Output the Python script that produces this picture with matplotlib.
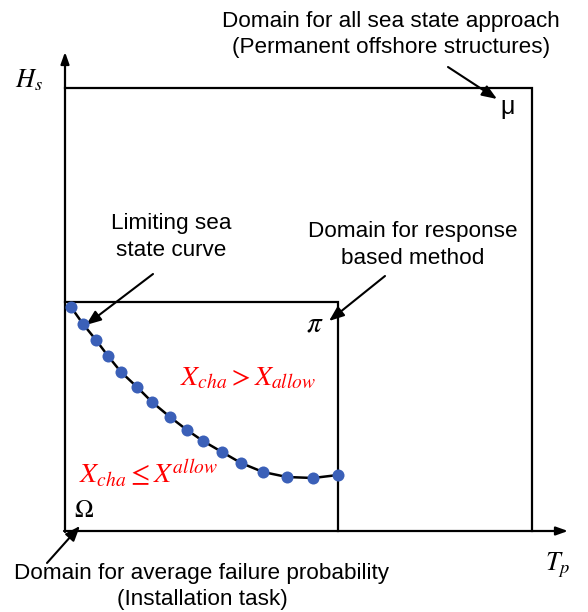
import numpy as np
from matplotlib import pyplot as plt

plt.rcParams['font.family'] = ['Liberation Sans', 'DejaVu Sans']
plt.rcParams['mathtext.fontset'] = 'stix'

# limiting sea state curve (Tp, Hs) in picture units
curve_tp = [71, 83, 96, 108, 121, 137, 152, 170, 187, 203, 222, 241, 263, 287, 313, 338]
curve_hs = [307, 324, 340, 356, 372, 387, 402, 417, 430, 441, 452, 463, 472, 477, 478, 475]

origin = (65, 531)
big_box = (532, 88)     # right, top
small_box = (338, 302)  # right, top

fig = plt.figure(figsize=(5.88, 6.12), dpi=100)
ax = fig.add_axes([0, 0, 1, 1])
ax.set_xlim(0, 588)
ax.set_ylim(612, 0)
ax.axis("off")

lw = 1.6
x0, y0 = origin
# axes with arrows
ax.annotate("", xy=(x0, 52), xytext=(x0, y0 + 1),
            arrowprops=dict(arrowstyle="-|>,head_length=0.7,head_width=0.25", lw=lw, color="black", shrinkA=0, shrinkB=0))
ax.annotate("", xy=(568, y0), xytext=(x0 - 1, y0),
            arrowprops=dict(arrowstyle="-|>,head_length=0.7,head_width=0.25", lw=lw, color="black", shrinkA=0, shrinkB=0))

# boxes
for r, t in [big_box, small_box]:
    ax.plot([x0, r, r], [t, t, y0], color="black", lw=lw, solid_joinstyle="miter")

# curve + points
ax.plot(curve_tp, curve_hs, color="black", lw=1.8, zorder=3)
ax.scatter(curve_tp, curve_hs, s=75, color="#3b60b8", zorder=4, linewidths=0)

# axis labels & symbols
ax.text(29, 80, r"$H_s$", fontsize=19, ha="center", va="center")
ax.text(558, 565, r"$T_p$", fontsize=19, ha="center", va="center")
ax.text(508, 107, "μ", fontsize=18, ha="center", va="center")
ax.text(315, 324, r"$\pi$", fontsize=21, ha="center", va="center")
ax.text(84, 510, r"$\Omega$", fontsize=18, ha="center", va="center")

# red annotations
ax.text(248, 378, r"$X_{cha} > X_{allow}$", fontsize=20, color="red", ha="center", va="center")
ax.text(148, 474, r"$X_{cha} \leq X^{allow}$", fontsize=20, color="red", ha="center", va="center")

fs = 16.2
ax.text(391, 21, "Domain for all sea state approach", fontsize=fs, ha="center", va="center")
ax.text(391, 48, "(Permanent offshore structures)", fontsize=fs, ha="center", va="center")
ax.text(171, 224, "Limiting sea", fontsize=fs, ha="center", va="center")
ax.text(171, 251, "state curve", fontsize=fs, ha="center", va="center")
ax.text(413, 232, "Domain for response", fontsize=fs, ha="center", va="center")
ax.text(413, 259, "based method", fontsize=fs, ha="center", va="center")
ax.text(202, 573, "Domain for average failure probability", fontsize=fs, ha="center", va="center")
ax.text(202, 599, "(Installation task)", fontsize=fs, ha="center", va="center")

arrow = dict(arrowstyle="-|>,head_length=0.9,head_width=0.35", lw=1.5, color="black", shrinkA=0, shrinkB=0)
ax.annotate("", xy=(497, 99), xytext=(448, 67), arrowprops=arrow)
ax.annotate("", xy=(86, 325), xytext=(153, 274), arrowprops=arrow)
ax.annotate("", xy=(329, 321), xytext=(385, 276), arrowprops=arrow)
ax.annotate("", xy=(80, 526), xytext=(47, 563), arrowprops=arrow)

fig.savefig("out.png", dpi=100)
